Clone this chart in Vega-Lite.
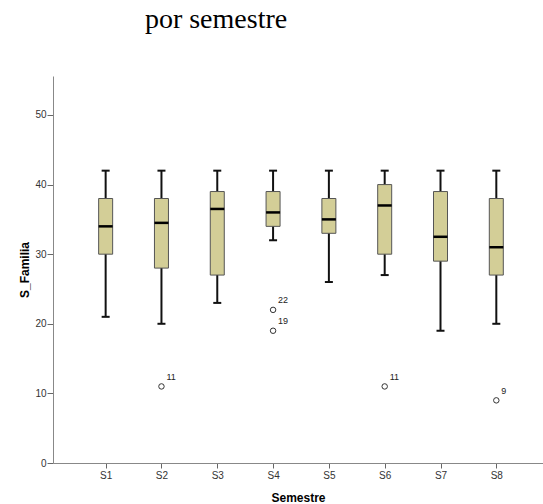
{
  "$schema": "https://vega.github.io/schema/vega-lite/v6.json",
  "autosize": "none",
  "width": 490,
  "height": 387,
  "padding": {"left": 53, "top": 76, "right": 0, "bottom": 41},
  "background": "white",
  "title": {
    "text": "por semestre",
    "font": "Liberation Serif",
    "fontSize": 28,
    "fontWeight": "normal",
    "color": "black",
    "anchor": "start",
    "dx": 126,
    "baseline": "alphabetic",
    "offset": 20
  },
  "datasets": {
    "boxes": [
      {"Semestre": "S1", "min": 21, "q1": 30, "median": 34, "q3": 38, "max": 42},
      {"Semestre": "S2", "min": 20, "q1": 28, "median": 34.5, "q3": 38, "max": 42},
      {"Semestre": "S3", "min": 23, "q1": 27, "median": 36.5, "q3": 39, "max": 42},
      {"Semestre": "S4", "min": 32, "q1": 34, "median": 36, "q3": 39, "max": 42},
      {"Semestre": "S5", "min": 26, "q1": 33, "median": 35, "q3": 38, "max": 42},
      {"Semestre": "S6", "min": 27, "q1": 30, "median": 37, "q3": 40, "max": 42},
      {"Semestre": "S7", "min": 19, "q1": 29, "median": 32.5, "q3": 39, "max": 42},
      {"Semestre": "S8", "min": 20, "q1": 27, "median": 31, "q3": 38, "max": 42}
    ],
    "outliers": [
      {"Semestre": "S2", "S_Familia": 11, "caso": "11"},
      {"Semestre": "S4", "S_Familia": 22, "caso": "22"},
      {"Semestre": "S4", "S_Familia": 19, "caso": "19"},
      {"Semestre": "S6", "S_Familia": 11, "caso": "11"},
      {"Semestre": "S8", "S_Familia": 9, "caso": "9"}
    ]
  },
  "encoding": {
    "x": {
      "field": "Semestre",
      "type": "nominal",
      "sort": ["S1", "S2", "S3", "S4", "S5", "S6", "S7", "S8"],
      "scale": {"type": "point", "padding": 0.89, "align": 0.53},
      "axis": {
        "title": "Semestre",
        "labelAngle": 0,
        "tickSize": 5,
        "labelPadding": 2,
        "titlePadding": 12
      }
    }
  },
  "layer": [
    {
      "data": {"name": "boxes"},
      "mark": {"type": "rule", "color": "#111111", "strokeWidth": 2, "opacity": 1},
      "encoding": {
        "y": {
          "field": "min",
          "type": "quantitative",
          "scale": {"domain": [0, 55.6], "nice": false, "zero": true},
          "axis": {
            "title": "S_Familia",
            "values": [0, 10, 20, 30, 40, 50],
            "tickSize": 6,
            "labelPadding": 1,
            "titlePadding": 3
          }
        },
        "y2": {"field": "max"}
      }
    },
    {
      "data": {"name": "boxes"},
      "mark": {"type": "tick", "color": "#111111", "size": 8, "thickness": 2, "opacity": 1},
      "encoding": {"y": {"field": "min", "type": "quantitative"}}
    },
    {
      "data": {"name": "boxes"},
      "mark": {"type": "tick", "color": "#111111", "size": 8, "thickness": 2, "opacity": 1},
      "encoding": {"y": {"field": "max", "type": "quantitative"}}
    },
    {
      "data": {"name": "boxes"},
      "mark": {"type": "bar", "size": 14, "fill": "#d3ce97", "stroke": "#555555", "strokeWidth": 1, "opacity": 1},
      "encoding": {
        "y": {"field": "q1", "type": "quantitative"},
        "y2": {"field": "q3"}
      }
    },
    {
      "data": {"name": "boxes"},
      "mark": {"type": "tick", "color": "#000000", "size": 14, "thickness": 2.5, "opacity": 1},
      "encoding": {"y": {"field": "median", "type": "quantitative"}}
    },
    {
      "data": {"name": "outliers"},
      "mark": {"type": "point", "shape": "circle", "filled": false, "size": 30, "stroke": "#333333", "strokeWidth": 1, "opacity": 1},
      "encoding": {"y": {"field": "S_Familia", "type": "quantitative"}}
    },
    {
      "data": {"name": "outliers"},
      "mark": {"type": "text", "align": "left", "baseline": "middle", "dx": 5, "dy": -9.5, "fontSize": 9, "font": "Liberation Sans", "color": "#222222"},
      "encoding": {
        "y": {"field": "S_Familia", "type": "quantitative"},
        "text": {"field": "caso"}
      }
    }
  ],
  "config": {
    "view": {"stroke": null},
    "axis": {
      "grid": false,
      "domainColor": "#888888",
      "tickColor": "#666666",
      "labelFont": "Liberation Sans",
      "labelFontSize": 10,
      "labelColor": "#333333",
      "titleFont": "Liberation Sans",
      "titleFontSize": 12,
      "titleFontWeight": "bold",
      "titleColor": "#000000"
    }
  }
}
